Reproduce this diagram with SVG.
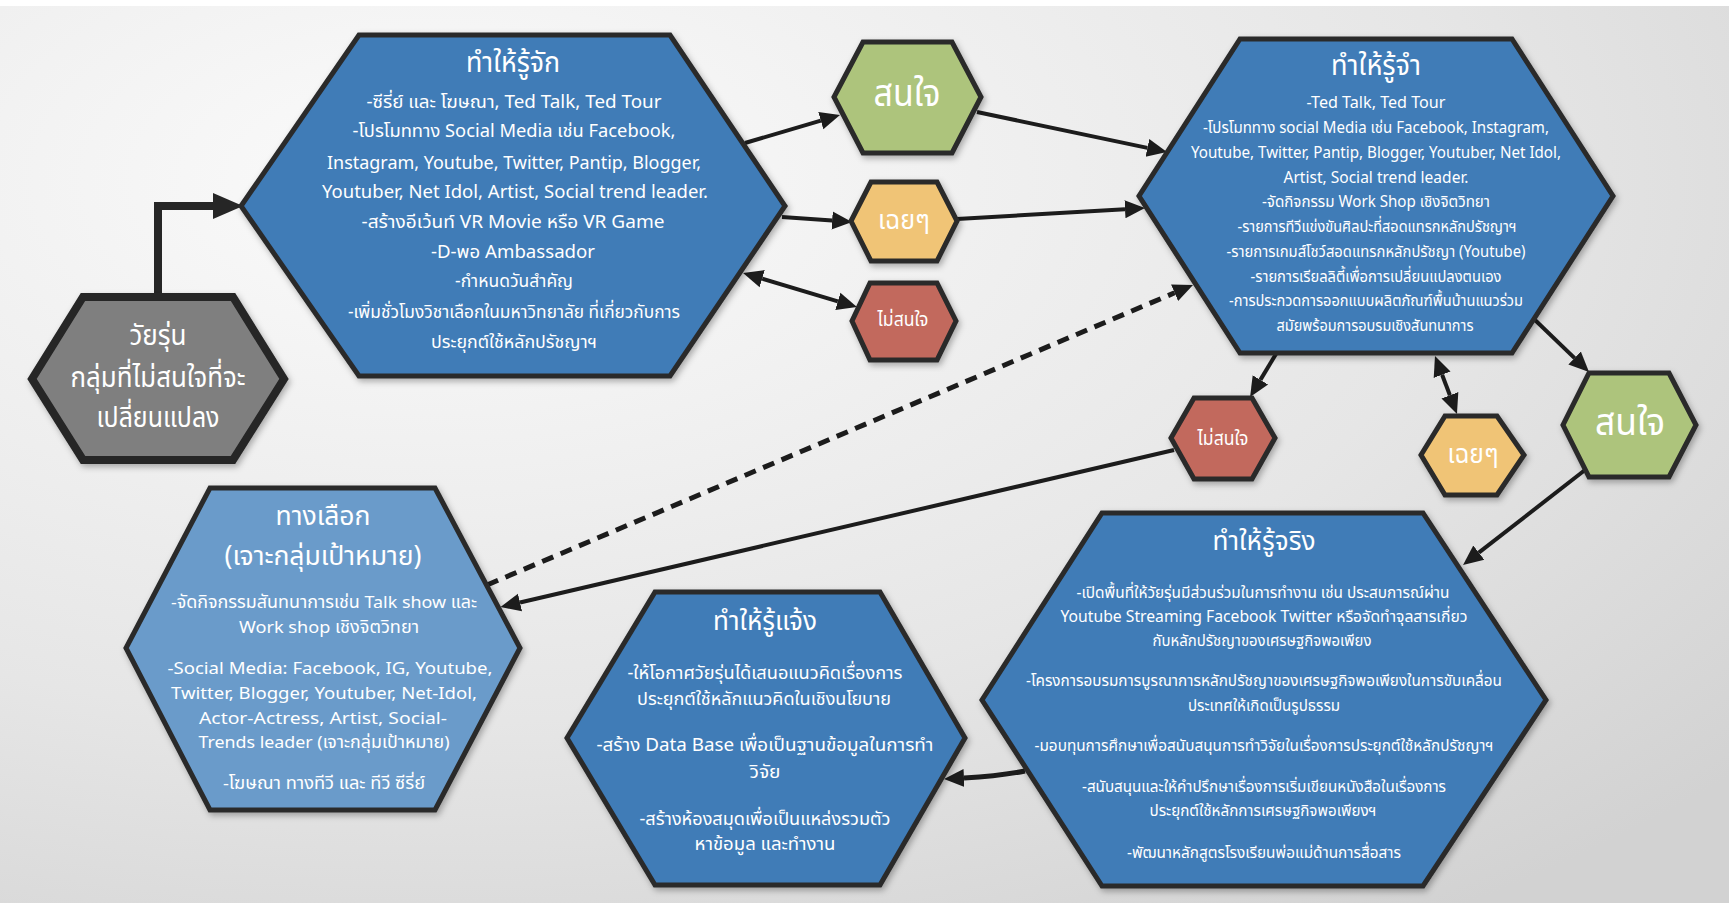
<svg xmlns="http://www.w3.org/2000/svg" width="1729" height="903" viewBox="0 0 1729 903">
<defs>
<radialGradient id="bg" cx="0.25" cy="0.2" r="1.0">
<stop offset="0" stop-color="#fbfbfb"/>
<stop offset="0.6" stop-color="#e6e6e6"/>
<stop offset="1" stop-color="#d2d2d2"/>
</radialGradient>
<filter id="sh" x="-10%" y="-10%" width="125%" height="125%">
<feDropShadow dx="2" dy="3" stdDeviation="3" flood-color="#000" flood-opacity="0.3"/>
</filter>
<marker id="ah" markerUnits="userSpaceOnUse" markerWidth="22" markerHeight="20" refX="0" refY="9" orient="auto-start-reverse" viewBox="0 0 22 18">
<path d="M0,0 L20,9 L0,18 z" fill="#1c1c1c"/>
</marker>
<marker id="ahBig" markerUnits="userSpaceOnUse" markerWidth="32" markerHeight="28" refX="0" refY="13" orient="auto" viewBox="0 0 32 26">
<path d="M0,0 L30,13 L0,26 z" fill="#262626"/>
</marker>
</defs>
<style>
.hex{stroke:#2a2a2a;stroke-width:5;stroke-linejoin:miter;filter:url(#sh)}
.blue{fill:#3f7bb7}
.lblue{fill:#6a9bca}
.gray{fill:#7f7f7f;stroke:#262626;stroke-width:8}
.green{fill:#adc47c}
.yellow{fill:#f0c476}
.red{fill:#c2695d}
text{fill:#ffffff;font-family:"Noto Sans Thai","Noto Sans","DejaVu Sans",sans-serif;text-anchor:middle}
.ln{fill:none;stroke:#1c1c1c;stroke-width:4}
.dash{fill:none;stroke:#1c1c1c;stroke-width:5;stroke-dasharray:12 8}
</style>
<rect x="0" y="0" width="1729" height="903" fill="url(#bg)"/>
<rect x="0" y="0" width="1729" height="6" fill="#ffffff"/>

<g id="connectors">
<path d="M158,297 V206 H213" fill="none" stroke="#262626" stroke-width="8" marker-end="url(#ahBig)"/>
<path class="ln" d="M745,143 L820.8,120.7" marker-end="url(#ah)"/>
<path class="ln" d="M782,217 L832.1,220.6" marker-end="url(#ah)"/>
<path class="ln" d="M762.2,278.7 L837.8,301.3" marker-start="url(#ah)" marker-end="url(#ah)"/>
<path class="ln" d="M977,112 L1147.4,147.9" marker-end="url(#ah)"/>
<path class="ln" d="M957,219 L1125,209.2" marker-end="url(#ah)"/>
<path class="dash" d="M487,585 L1174.6,292.8" marker-end="url(#ah)"/>
<path class="ln" d="M1174,450 L520,602.5" marker-end="url(#ah)"/>
<path class="ln" d="M1276,354 L1260.4,379.9" marker-end="url(#ah)"/>
<path class="ln" d="M1442.1,374.7 L1449.9,395.3" marker-start="url(#ah)" marker-end="url(#ah)"/>
<path class="ln" d="M1535,320 L1574.6,358.1" marker-end="url(#ah)"/>
<path class="ln" d="M1585,470 L1478.8,552.7" marker-end="url(#ah)"/>
<path class="ln" style="stroke-width:5" d="M1025,771 Q1000,776 964,778" marker-end="url(#ah)"/>
</g>

<g id="n-teen">
<polygon class="gray" style="filter:url(#sh)" points="83,297 233,297 284,379 233,460 83,460 32,379"/>
<text x="158" y="345" font-size="28" textLength="57" lengthAdjust="spacingAndGlyphs">วัยรุ่น</text>
<text x="158" y="387" font-size="28" textLength="175" lengthAdjust="spacingAndGlyphs">กลุ่มที่ไม่สนใจที่จะ</text>
<text x="158" y="427" font-size="28" textLength="123" lengthAdjust="spacingAndGlyphs">เปลี่ยนแปลง</text>
</g>

<g id="n-know">
<polygon class="hex blue" points="359,35 670,35 785,206 670,376 359,376 241,206"/>
<text x="513" y="72" font-size="28" textLength="94" lengthAdjust="spacingAndGlyphs">ทำให้รู้จัก</text>
<text x="514" y="108" font-size="18" textLength="295" lengthAdjust="spacingAndGlyphs">-ซีรี่ย์ และ โฆษณา, Ted Talk, Ted Tour</text>
<text x="514" y="137" font-size="18" textLength="323" lengthAdjust="spacingAndGlyphs">-โปรโมททาง Social Media เช่น Facebook,</text>
<text x="514" y="169" font-size="18" textLength="374" lengthAdjust="spacingAndGlyphs">Instagram, Youtube, Twitter, Pantip, Blogger,</text>
<text x="515" y="198" font-size="18" textLength="386" lengthAdjust="spacingAndGlyphs">Youtuber, Net Idol, Artist, Social trend leader.</text>
<text x="513" y="228" font-size="18" textLength="303" lengthAdjust="spacingAndGlyphs">-สร้างอีเว้นท์ VR Movie หรือ VR Game</text>
<text x="513" y="258" font-size="18" textLength="164" lengthAdjust="spacingAndGlyphs">-D-พอ Ambassador</text>
<text x="514" y="287" font-size="18" textLength="118" lengthAdjust="spacingAndGlyphs">-กำหนดวันสำคัญ</text>
<text x="514" y="318" font-size="18" textLength="332" lengthAdjust="spacingAndGlyphs">-เพิ่มชั่วโมงวิชาเลือกในมหาวิทยาลัย ที่เกี่ยวกับการ</text>
<text x="514" y="348" font-size="18" textLength="166" lengthAdjust="spacingAndGlyphs">ประยุกต์ใช้หลักปรัชญาฯ</text>
</g>

<g id="n-interest1">
<polygon class="hex green" points="863,42 952,42 981,97 952,153 863,153 834,97"/>
<text x="907" y="106" font-size="38" textLength="67" lengthAdjust="spacingAndGlyphs">สนใจ</text>
</g>
<g id="n-neutral1">
<polygon class="hex yellow" points="871,182 937,182 957,221 937,261 871,261 851,221"/>
<text x="904" y="229" font-size="27" textLength="52" lengthAdjust="spacingAndGlyphs">เฉยๆ</text>
</g>
<g id="n-nointerest1">
<polygon class="hex red" points="870,283 937,283 956,321 937,360 870,360 852,321"/>
<text x="903" y="326" font-size="20" textLength="51" lengthAdjust="spacingAndGlyphs">ไม่สนใจ</text>
</g>

<g id="n-remember">
<polygon class="hex blue" points="1240,39 1512,39 1613,196 1512,353 1240,353 1139,196"/>
<text x="1376" y="75" font-size="28" textLength="90" lengthAdjust="spacingAndGlyphs">ทำให้รู้จำ</text>
<text x="1376" y="108" font-size="16" textLength="139" lengthAdjust="spacingAndGlyphs">-Ted Talk, Ted Tour</text>
<text x="1376" y="133" font-size="16" textLength="346" lengthAdjust="spacingAndGlyphs">-โปรโมททาง social Media เช่น Facebook, Instagram,</text>
<text x="1376" y="158" font-size="16" textLength="370" lengthAdjust="spacingAndGlyphs">Youtube, Twitter, Pantip, Blogger, Youtuber, Net Idol,</text>
<text x="1376" y="183" font-size="16" textLength="185" lengthAdjust="spacingAndGlyphs">Artist, Social trend leader.</text>
<text x="1376" y="207" font-size="16" textLength="228" lengthAdjust="spacingAndGlyphs">-จัดกิจกรรม Work Shop เชิงจิตวิทยา</text>
<text x="1377" y="232" font-size="16" textLength="279" lengthAdjust="spacingAndGlyphs">-รายการทีวีแข่งขันศิลปะที่สอดแทรกหลักปรัชญาฯ</text>
<text x="1376" y="257" font-size="16" textLength="299" lengthAdjust="spacingAndGlyphs">-รายการเกมส์โชว์สอดแทรกหลักปรัชญา (Youtube)</text>
<text x="1376" y="282" font-size="16" textLength="251" lengthAdjust="spacingAndGlyphs">-รายการเรียลลิตี้เพื่อการเปลี่ยนแปลงตนเอง</text>
<text x="1376" y="306" font-size="16" textLength="294" lengthAdjust="spacingAndGlyphs">-การประกวดการออกแบบผลิตภัณฑ์พื้นบ้านแนวร่วม</text>
<text x="1375" y="331" font-size="16" textLength="197" lengthAdjust="spacingAndGlyphs">สมัยพร้อมการอบรมเชิงสันทนาการ</text>
</g>

<g id="n-nointerest2">
<polygon class="hex red" points="1194,398 1252,398 1275,438 1252,479 1194,479 1171,438"/>
<text x="1223" y="445" font-size="20" textLength="51" lengthAdjust="spacingAndGlyphs">ไม่สนใจ</text>
</g>
<g id="n-neutral2">
<polygon class="hex yellow" points="1445,416 1497,416 1524,455 1497,495 1445,495 1421,455"/>
<text x="1473" y="463" font-size="27" textLength="51" lengthAdjust="spacingAndGlyphs">เฉยๆ</text>
</g>
<g id="n-interest2">
<polygon class="hex green" points="1589,373 1669,373 1696,425 1669,477 1589,477 1563,425"/>
<text x="1630" y="435" font-size="38" textLength="70" lengthAdjust="spacingAndGlyphs">สนใจ</text>
</g>

<g id="n-alternative">
<polygon class="hex lblue" points="210,488 435,488 520,648 435,810 210,810 126,648"/>
<text x="323" y="525" font-size="27" textLength="95" lengthAdjust="spacingAndGlyphs">ทางเลือก</text>
<text x="323" y="565" font-size="27" textLength="197" lengthAdjust="spacingAndGlyphs">(เจาะกลุ่มเป้าหมาย)</text>
<text x="324" y="608" font-size="17" textLength="306" lengthAdjust="spacingAndGlyphs">-จัดกิจกรรมสันทนาการเช่น Talk show และ</text>
<text x="329" y="633" font-size="17" textLength="180" lengthAdjust="spacingAndGlyphs">Work shop เชิงจิตวิทยา</text>
<text x="330" y="674" font-size="17" textLength="325" lengthAdjust="spacingAndGlyphs">-Social Media: Facebook, IG, Youtube,</text>
<text x="324" y="699" font-size="17" textLength="306" lengthAdjust="spacingAndGlyphs">Twitter, Blogger, Youtuber,  Net-Idol,</text>
<text x="323" y="724" font-size="17" textLength="248" lengthAdjust="spacingAndGlyphs">Actor-Actress, Artist, Social-</text>
<text x="324" y="748" font-size="17" textLength="251" lengthAdjust="spacingAndGlyphs">Trends leader (เจาะกลุ่มเป้าหมาย)</text>
<text x="324" y="789" font-size="17" textLength="202" lengthAdjust="spacingAndGlyphs">-โฆษณา ทางทีวี และ ทีวี ซีรี่ย์</text>
</g>

<g id="n-enlighten">
<polygon class="hex blue" points="655,592 880,592 965,738 880,885 655,885 567,738"/>
<text x="765" y="630" font-size="27" textLength="104" lengthAdjust="spacingAndGlyphs">ทำให้รู้แจ้ง</text>
<text x="765" y="679" font-size="18" textLength="275" lengthAdjust="spacingAndGlyphs">-ให้โอกาศวัยรุ่นได้เสนอแนวคิดเรื่องการ</text>
<text x="764" y="705" font-size="18" textLength="254" lengthAdjust="spacingAndGlyphs">ประยุกต์ใช้หลักแนวคิดในเชิงนโยบาย</text>
<text x="765" y="751" font-size="18" textLength="337" lengthAdjust="spacingAndGlyphs">-สร้าง Data Base เพื่อเป็นฐานข้อมูลในการทำ</text>
<text x="765" y="778" font-size="18" textLength="31" lengthAdjust="spacingAndGlyphs">วิจัย</text>
<text x="765" y="825" font-size="18" textLength="251" lengthAdjust="spacingAndGlyphs">-สร้างห้องสมุดเพื่อเป็นแหล่งรวมตัว</text>
<text x="765" y="850" font-size="18" textLength="141" lengthAdjust="spacingAndGlyphs">หาข้อมูล และทำงาน</text>
</g>

<g id="n-real">
<polygon class="hex blue" points="1102,513 1423,513 1546,700 1423,886 1102,886 982,700"/>
<text x="1264" y="550" font-size="27" textLength="103" lengthAdjust="spacingAndGlyphs">ทำให้รู้จริง</text>
<text x="1263" y="598" font-size="16" textLength="373" lengthAdjust="spacingAndGlyphs">-เปิดพื้นที่ให้วัยรุ่นมีส่วนร่วมในการทำงาน เช่น ประสบการณ์ผ่าน</text>
<text x="1264" y="622" font-size="16" textLength="407" lengthAdjust="spacingAndGlyphs">Youtube Streaming Facebook Twitter หรือจัดทำจุลสารเกี่ยว</text>
<text x="1262" y="646" font-size="16" textLength="219" lengthAdjust="spacingAndGlyphs">กับหลักปรัชญาของเศรษฐกิจพอเพียง</text>
<text x="1264" y="686" font-size="16" textLength="476" lengthAdjust="spacingAndGlyphs">-โครงการอบรมการบูรณาการหลักปรัชญาของเศรษฐกิจพอเพียงในการขับเคลื่อน</text>
<text x="1264" y="711" font-size="16" textLength="152" lengthAdjust="spacingAndGlyphs">ประเทศให้เกิดเป็นรูปธรรม</text>
<text x="1264" y="751" font-size="16" textLength="459" lengthAdjust="spacingAndGlyphs">-มอบทุนการศึกษาเพื่อสนับสนุนการทำวิจัยในเรื่องการประยุกต์ใช้หลักปรัชญาฯ</text>
<text x="1264" y="792" font-size="16" textLength="364" lengthAdjust="spacingAndGlyphs">-สนับสนุนและให้คำปรึกษาเรื่องการเริ่มเขียนหนังสือในเรื่องการ</text>
<text x="1263" y="816" font-size="16" textLength="227" lengthAdjust="spacingAndGlyphs">ประยุกต์ใช้หลักการเศรษฐกิจพอเพียงฯ</text>
<text x="1264" y="858" font-size="16" textLength="274" lengthAdjust="spacingAndGlyphs">-พัฒนาหลักสูตรโรงเรียนพ่อแม่ด้านการสื่อสาร</text>
</g>
</svg>
